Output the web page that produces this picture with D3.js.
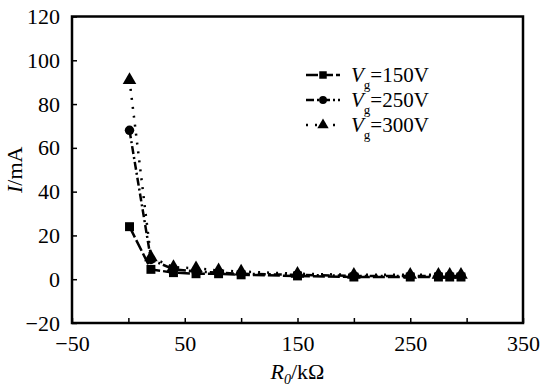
<!DOCTYPE html>
<html>
<head>
<meta charset="utf-8">
<script src="https://cdn.jsdelivr.net/npm/d3@7"></script>
<style>
  body { margin: 0; background: #fff; }
  svg text { font-family: "Liberation Serif", "DejaVu Serif", serif; fill: #000; }
</style>
</head>
<body>
<svg id="chart"></svg>
<script>
// resistance R0 (kOhm) and current I (mA) for each gate voltage
const r0 = [1, 20, 40, 60, 80, 100, 150, 200, 250, 275, 285, 295];
const i150 = [24, 4.5, 3, 2.5, 2.5, 2, 1.5, 1, 1, 1, 1, 1];
const i250 = [68, 9, 4.5, 3.5, 3, 2.5, 2, 1.5, 1.5, 1.5, 1.5, 1.5];
const i300 = [91, 10, 5.5, 5, 4, 3.5, 2.5, 2, 2, 2, 2, 2];
const seriesNames = ["150V", "250V", "300V"];
const xTicks = [-50, 0, 50, 100, 150, 200, 250, 300, 350];
const xTickLabels = [-50, 50, 150, 250, 350];
const yTicks = [-20, 0, 20, 40, 60, 80, 100, 120];

const width = 540, height = 390;
const margin = { left: 72, right: 17, top: 16.5, bottom: 67 };

const svg = d3.select("#chart").attr("width", width).attr("height", height);

const x = d3.scaleLinear().domain([-50, 350]).range([margin.left, width - margin.right]);
const y = d3.scaleLinear().domain([-20, 120]).range([height - margin.bottom, margin.top]);

// axes with inward ticks
const xAxis = svg.append("g")
    .attr("transform", `translate(0,${height - margin.bottom})`)
    .call(d3.axisBottom(x).tickValues(xTicks).tickSize(-5).tickPadding(12)
        .tickFormat(d => xTickLabels.includes(d) ? d3.format("")(d) : ""));
const yAxis = svg.append("g")
    .attr("transform", `translate(${margin.left},0)`)
    .call(d3.axisLeft(y).tickValues(yTicks).tickSize(-5).tickPadding(12));

[xAxis, yAxis].forEach(a => {
    a.select(".domain").remove();
    a.selectAll("line").attr("stroke", "#000").attr("stroke-width", 1.5);
    a.selectAll("text").style("font-size", "22px");
});

// frame
svg.append("rect")
    .attr("x", margin.left).attr("y", margin.top)
    .attr("width", width - margin.left - margin.right)
    .attr("height", height - margin.top - margin.bottom)
    .attr("fill", "none").attr("stroke", "#000").attr("stroke-width", 2.5);

const series = [
    { name: seriesNames[0], values: i150, symbol: d3.symbolSquare, size: 80, dash: "12,3" },
    { name: seriesNames[1], values: i250, symbol: d3.symbolCircle, size: 70, dash: "8,3,2,3" },
    { name: seriesNames[2], values: i300, symbol: d3.symbolTriangle, size: 80, dash: "2,7" }
];

const line = d3.line().x(d => x(d[0])).y(d => y(d[1]));

series.forEach(s => {
    const pts = r0.map((r, i) => [r, s.values[i]]);
    svg.append("path")
        .attr("d", line(pts))
        .attr("fill", "none")
        .attr("stroke", "#000")
        .attr("stroke-width", 2.5)
        .attr("stroke-dasharray", s.dash);
    svg.selectAll(null)
        .data(pts)
        .enter()
        .append("path")
        .attr("d", d3.symbol().type(s.symbol).size(s.size))
        .attr("transform", d => `translate(${x(d[0])},${y(d[1])})`)
        .attr("fill", "#000");
});

// legend
const legend = svg.append("g").attr("transform", "translate(306,75)");
series.forEach((s, i) => {
    const row = legend.append("g").attr("transform", `translate(0,${i * 25})`);
    row.append("line")
        .attr("x1", 0).attr("x2", 34)
        .attr("stroke", "#000").attr("stroke-width", 2.5)
        .attr("stroke-dasharray", s.dash);
    row.append("path")
        .attr("d", d3.symbol().type(s.symbol).size(s.size * 0.7))
        .attr("transform", "translate(17,0)");
    const t = row.append("text")
        .attr("x", 45).attr("y", 7)
        .style("font-size", "21px");
    t.append("tspan").style("font-style", "italic").text("V");
    t.append("tspan").attr("dy", 7).style("font-size", "13px").text("g");
    t.append("tspan").attr("dy", -7).text("=" + s.name);
});

// axis titles
const xt = svg.append("text")
    .attr("x", (margin.left + width - margin.right) / 2)
    .attr("y", 379)
    .attr("text-anchor", "middle")
    .style("font-size", "22px");
xt.append("tspan").style("font-style", "italic").text("R");
xt.append("tspan").attr("dy", 5).style("font-size", "14px").style("font-style", "italic").text("0");
xt.append("tspan").attr("dy", -5).text("/kΩ");

const yt = svg.append("text")
    .attr("transform", `translate(22,${(margin.top + height - margin.bottom) / 2}) rotate(-90)`)
    .attr("text-anchor", "middle")
    .style("font-size", "22px");
yt.append("tspan").style("font-style", "italic").text("I");
yt.append("tspan").text("/mA");
</script>
</body>
</html>
